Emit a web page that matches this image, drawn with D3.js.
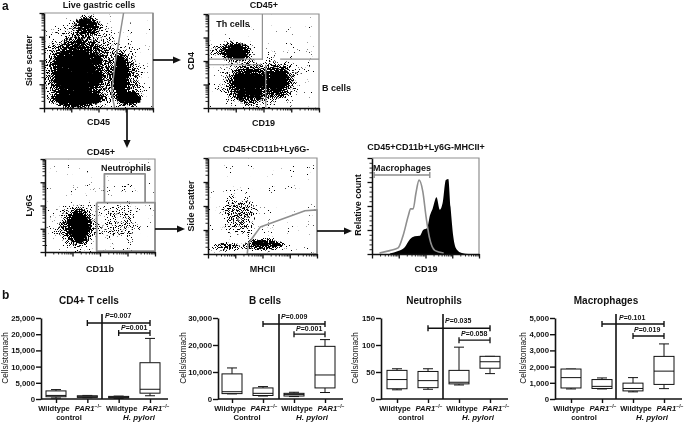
<!DOCTYPE html>
<html><head><meta charset="utf-8">
<script src="https://cdn.jsdelivr.net/npm/d3@7/dist/d3.min.js"></script>
<style>
html,body{margin:0;padding:0;background:#fff}
svg{display:block;filter:blur(.3px)}
text{font-family:"Liberation Sans",Arial,sans-serif;font-weight:bold;fill:#111}
</style></head><body>
<svg id="c" width="685" height="425"></svg>
<script>
// ---------- flow cytometry populations: [x, y, spreadX, spreadY, density] on a 0-100 axis
const liveGastricClouds=[[29,35,27,42,1],[30,10,30,11,1],[40,87,16,14,.78],[33,42,46,60,.6],[71,31,9,32,1],[80,10,12,9,1],[76,28,22,42,.46],[57,50,44,56,.12]];
const cd45Clouds=[[25.5,60,15,11,1],[22,60,27,16,.5],[36,25,20,23,.95],[63,28,15,20,.92],[45,26,48,34,.56],[75,50,30,30,.14]];
const neutrophilClouds=[[31,27,13,23,1],[28,27,27,30,.56],[68,30,26,30,.3],[74,70,8,7,.16],[50,50,44,44,.05]];
const macrophageGateClouds=[[28,42,22,30,.4],[17,8,19,6,.55],[52,10,25,8,.8],[45,30,44,34,.06]];
// ---------- histogram
const cd19BlackX=[16.6,24.4,30.6,35.3,40,44.7,47.8,51.6,54.1,56.6,60.3,63.4,66,69,71.3,73.4,76,79,84,90];
const cd19BlackY=[0.5,3,7,15,18.5,19,25,27,40,47,59,46,53,77,78,49,18,5,1,0];
const cd19GreyX=[7,16.6,24.4,29,34,36,38.5,41,44,47.5,50.5,53.5,59,67];
const cd19GreyY=[1,3.5,6.3,19,40,47,47,63,77,65,39,18,3.5,1];
// ---------- box plots: [min, q1, median, q3, max]
const groupNames=["Wildtype","PAR1","Wildtype","PAR1"];
const cd4Boxes=[[300,700,1100,2500,2900],[400,500,700,1000,1100],[200,300,500,800,900],[1000,1800,3000,11200,18700]];
const bCellBoxes=[[1900,2000,2700,9300,11500],[1100,1300,2100,4100,4600],[900,1100,1700,2100,2500],[2400,4100,8900,19500,22000]];
const neutrophilBoxes=[[17,19,36,53,56],[18,21,34,51,56],[26,28,31,53,96],[47,57,69,79,79]];
const macrophageBoxes=[[620,680,1320,1850,1850],[620,650,780,1200,1300],[440,500,650,980,1320],[640,900,1720,2630,3400]];
const cd4Ticks=[0,5000,10000,15000,20000,25000];
const bCellTicks=[0,10000,20000,30000];
const neutrophilTicks=[0,50,100,150];
const macrophageTicks=[0,1000,2000,3000,4000,5000];
const cd4Pvalues=["0.007","0.001"], bCellPvalues=["0.009","0.001"], neutrophilPvalues=["0.035","0.058"], macrophagePvalues=["0.101","0.019"];
const cd4Brackets=[23450,20370], bCellBrackets=[27800,24000], neutrophilBrackets=[131,109], macrophageBrackets=[4630,3890];

const svg=d3.select("#c"), defs=svg.append("defs");
const GREY="#8f8f8f", INK="#111", FS=9;
const grad=defs.append("radialGradient").attr("id","blob");
[[0,1],[.4,.9],[.75,.35],[1,0]].forEach(([o,a])=>grad.append("stop").attr("offset",o).attr("stop-color","#000").attr("stop-opacity",a));

function label(t,x,y,size,o={}){
  const s=svg.append("text").attr("x",x).attr("y",y).attr("font-size",size).attr("text-anchor",o.anchor||"middle").text(t);
  if(o.rot)s.attr("transform",`rotate(${o.rot} ${x} ${y})`);
  if(o.italic)s.style("font-style","italic");
  if(o.weight)s.style("font-weight",o.weight);
  return s;
}
function stipple(id,seed,x,y,w,h){
  const f=defs.append("filter").attr("id",id).attr("filterUnits","userSpaceOnUse").attr("x",x).attr("y",y).attr("width",w).attr("height",h).attr("color-interpolation-filters","sRGB");
  f.append("feTurbulence").attr("type","fractalNoise").attr("baseFrequency",1.05).attr("numOctaves",1).attr("seed",seed).attr("result","n");
  f.append("feColorMatrix").attr("in","n").attr("type","matrix").attr("values","0 0 0 0 0 0 0 0 0 0 0 0 0 0 0 1.8 0 0 0 -0.4").attr("result","na");
  f.append("feComposite").attr("in","SourceAlpha").attr("in2","na").attr("operator","arithmetic").attr("k1",0).attr("k2",1).attr("k3",1).attr("k4",0).attr("result","sum");
  const ct=f.append("feComponentTransfer").attr("in","sum").attr("result","th");
  ct.append("feFuncA").attr("type","linear").attr("slope",12).attr("intercept",-11);
  f.append("feGaussianBlur").attr("in","th").attr("stdDeviation",.25);
}
function logAxes(g,x0,x1,y0,y1,linY){
  const sx=d3.scaleLog().domain([1,1e4]).range([x0,x1]);
  const major=v=>Math.abs(Math.log10(v)%1)<1e-9;
  const vals=sx.ticks();
  const ax=g.append("g").attr("transform",`translate(0,${y1})`).call(d3.axisBottom(sx).tickValues(vals).tickSizeOuter(0).tickFormat(""));
  ax.selectAll("line").attr("y2",d=>major(d)?4.5:2.5).attr("stroke",INK).attr("stroke-width",d=>major(d)?1.3:.9);
  ax.select("path").attr("stroke",INK).attr("stroke-width",1.5);
  let ay;
  if(linY){
    const sy=d3.scaleLinear().domain([0,100]).range([y1,y0]);
    ay=g.append("g").attr("transform",`translate(${x0},0)`).call(d3.axisLeft(sy).tickValues(d3.range(0,101,5)).tickSizeOuter(0).tickFormat(""));
    ay.selectAll("line").attr("x2",d=>d%25===0?-4.5:-2.5).attr("stroke",INK).attr("stroke-width",d=>d%25===0?1.3:.9);
  }else{
    const sy=d3.scaleLog().domain([1,1e4]).range([y1,y0]);
    ay=g.append("g").attr("transform",`translate(${x0},0)`).call(d3.axisLeft(sy).tickValues(sy.ticks()).tickSizeOuter(0).tickFormat(""));
    ay.selectAll("line").attr("x2",d=>major(d)?-4.5:-2.5).attr("stroke",INK).attr("stroke-width",d=>major(d)?1.3:.9);
  }
  ay.select("path").attr("stroke",INK).attr("stroke-width",1.5);
}
function flow(id,seed,box,clouds,gates,xLab,yLab,title,titleX,titleY,yLabX,xLabY,gw){
  const [x0,x1,y0,y1]=box;
  const sx=d3.scaleLinear().domain([0,100]).range([x0,x1]);
  const sy=d3.scaleLinear().domain([0,100]).range([y1,y0]);
  stipple("st"+id,seed,x0,y0,x1-x0,y1-y0);
  const cp=defs.append("clipPath").attr("id","cp"+id);
  cp.append("rect").attr("x",x0).attr("y",y0).attr("width",x1-x0).attr("height",y1-y0);
  const g=svg.append("g");
  g.append("g").attr("clip-path",`url(#cp${id})`).append("g").attr("filter",`url(#st${id})`)
    .selectAll("ellipse").data(clouds).join("ellipse")
    .attr("cx",d=>sx(d[0])).attr("cy",d=>sy(d[1]))
    .attr("rx",d=>sx(d[2])-sx(0)).attr("ry",d=>sy(0)-sy(d[3]))
    .attr("fill","url(#blob)").attr("opacity",d=>d[4]);
  g.append("path").attr("d",`M${x0},${y0}H${x1}V${y1}`).attr("fill","none").attr("stroke",GREY).attr("stroke-width",1.2);
  const line=d3.line().x(d=>sx(d[0])).y(d=>sy(d[1]));
  gates.forEach(p=>g.append("path").attr("d",line(p)).attr("fill","none").attr("stroke",GREY).attr("stroke-width",gw).attr("stroke-linejoin","round"));
  logAxes(g,x0,x1,y0,y1,false);
  label(title,titleX,titleY,FS);
  label(xLab,(x0+x1)/2,xLabY,FS);
  label(yLab,yLabX,(y0+y1)/2,FS,{rot:-90});
}
function arrow(x1,y1,x2,y2){
  const a=Math.atan2(y2-y1,x2-x1),L=8,W=3.6;
  const bx=x2-L*Math.cos(a),by=y2-L*Math.sin(a),nx=-Math.sin(a)*W,ny=Math.cos(a)*W;
  svg.append("line").attr("x1",x1).attr("y1",y1).attr("x2",bx).attr("y2",by).attr("stroke",INK).attr("stroke-width",1.7);
  svg.append("path").attr("d",`M${x2},${y2}L${bx+nx},${by+ny}L${bx-nx},${by-ny}Z`).attr("fill",INK);
}
label("a",2,10,12,{anchor:"start"});
label("b",2,299,12,{anchor:"start"});

flow("p1",3,[44,153,13,108],liveGastricClouds,
 [[[73,100],[65,45],[62,16],[65,-1],[100,-1],[100,100]]],
 "CD45","Side scatter","Live gastric cells",99,8,32,125,1.5);
flow("p2",7,[208,319,14,108],cd45Clouds,
 [[[0,46],[48,46]],[[49,100],[49,51]],[[65,52],[100,52]],[[52,46],[52,1]],[[0,52],[49,52]]],
 "CD19","CD4","CD45+",264,8,194,126,1.2);
flow("p3",11,[45,155,159,252],neutrophilClouds,
 [[[54,53],[54,84],[91,84],[91,53]],[[47,53],[100,53],[100,1],[47,1],[47,53]]],
 "CD11b","Ly6G","CD45+",101,155,32,272,1.8);
flow("p4",15,[208,317,158,254],macrophageGateClouds,
 [[[36,0],[37,11],[48,28],[89,45],[100,46],[100,0],[36,0]]],
 "MHCII","Side scatter","CD45+CD11b+Ly6G-",266,152,194,272,1.6);
label("Th cells",233,27,FS);
label("B cells",322,91,FS,{anchor:"start"});
label("Neutrophils",126,171,FS);

// histogram
(function(){
  const x0=372,x1=479,y0=158,y1=254;
  const sx=d3.scaleLinear().domain([0,100]).range([x0,x1]);
  const sy=d3.scaleLinear().domain([0,100]).range([y1,y0]);
  const g=svg.append("g");
  const black=d3.area().x((d,i)=>sx(cd19BlackX[i])).y0(y1).y1(d=>sy(d)).curve(d3.curveMonotoneX);
  g.append("path").attr("d",black(cd19BlackY)).attr("fill","#000");
  const grey=d3.line().x((d,i)=>sx(cd19GreyX[i])).y(d=>sy(d)).curve(d3.curveMonotoneX);
  g.append("path").attr("d",grey(cd19GreyY)).attr("fill","none").attr("stroke",GREY).attr("stroke-width",1.6);
  g.append("path").attr("d",`M${x0},${y0}H${x1}V${y1}`).attr("fill","none").attr("stroke",GREY).attr("stroke-width",1.2);
  logAxes(g,x0,x1,y0,y1,true);
  const a=sx(2),b=sx(54),yy=175;
  g.append("path").attr("d",`M${a},${yy-3}V${yy+3}M${a},${yy}H${b}M${b},${yy-3}V${yy+3}`).attr("fill","none").attr("stroke",GREY).attr("stroke-width",1.4);
  label("CD45+CD11b+Ly6G-MHCII+",426,150,FS);
  label("Macrophages",402,171,FS);
  label("CD19",426,272,FS);
  label("Relative count",361,205,FS,{rot:-90});
})();
arrow(153,60,181,60);
arrow(127,108,127,148);
arrow(155,229,185,229);
arrow(317,231,352,231);

// box plots
const labelShift=[-2,1,3,6];
function boxPanel(o){
  const y=d3.scaleLinear().domain([0,o.max]).range([o.base,o.top]);
  const x=d3.scalePoint().domain(d3.range(4)).range([o.cx[0],o.cx[3]]);
  const g=svg.append("g");
  const ay=g.append("g").attr("transform",`translate(${o.ax},0)`).call(d3.axisLeft(y).tickValues(o.ticks).tickSize(5).tickSizeOuter(0).tickPadding(1).tickFormat(d3.format(",")));
  ay.select("path").attr("stroke",INK).attr("stroke-width",1.6);
  ay.selectAll("line").attr("stroke",INK).attr("stroke-width",1.4);
  ay.selectAll("text").attr("font-size",7.8).style("font-family",'"Liberation Sans",Arial,sans-serif').style("font-weight","bold");
  const ax=g.append("g").attr("transform",`translate(0,${o.base})`).call(d3.axisBottom(x).tickSize(4).tickSizeOuter(0).tickFormat(""));
  ax.select("path").attr("stroke",INK).attr("stroke-width",1.6).attr("d",`M${o.ax},0H${o.cx[3]+18}`);
  ax.selectAll("line").attr("stroke",INK).attr("stroke-width",1.4);
  const bw=20;
  const b=g.selectAll("g.b").data(o.boxes).join("g").attr("class","b");
  b.append("path").attr("fill","none").attr("stroke",INK).attr("stroke-width",1)
    .attr("d",(d,i)=>{const c=x(i),w=5;return `M${c},${y(d[3])}V${y(d[4])}M${c-w},${y(d[4])}H${c+w}M${c},${y(d[1])}V${y(d[0])}M${c-w},${y(d[0])}H${c+w}`});
  b.append("rect").attr("x",(d,i)=>x(i)-bw/2).attr("width",bw).attr("y",d=>y(d[3])).attr("height",d=>y(d[1])-y(d[3])).attr("fill","#fff").attr("stroke",INK).attr("stroke-width",1);
  b.append("line").attr("x1",(d,i)=>x(i)-bw/2).attr("x2",(d,i)=>x(i)+bw/2).attr("y1",d=>y(d[2])).attr("y2",d=>y(d[2])).attr("stroke",INK).attr("stroke-width",1);
  g.append("line").attr("x1",o.vx).attr("x2",o.vx).attr("y1",314).attr("y2",o.base).attr("stroke",INK).attr("stroke-width",1.6);
  o.brackets.forEach((v,k)=>{
    const a=x(k===0?1:2),e=x(3),yy=y(v);
    g.append("path").attr("d",`M${a},${yy-3}V${yy+3}M${a},${yy}H${e}M${e},${yy-3}V${yy+3}`).attr("fill","none").attr("stroke",INK).attr("stroke-width",k===0?1.4:1.3);
    const t=label("",o.px[k],o.py[k],7,{anchor:"start"});
    t.append("tspan").style("font-style","italic").text("P");
    t.append("tspan").text("="+o.pv[k]);
  });
  o.boxes.forEach((d,i)=>{
    const lx=x(i)+labelShift[i];
    if(i%2===0){label(groupNames[i],lx,o.base+12,7.6);}
    else{
      const t=label("",lx,o.base+12,7.6);
      t.append("tspan").style("font-style","italic").text(groupNames[i]);
      t.append("tspan").attr("font-size",5).attr("dy",-3).text("−/−");
    }
  });
  label(o.title,o.tx,304,10);
  label("Cells/stomach",o.lx,358,8.2,{rot:-90,weight:"normal"});
  label(o.ctl,o.cxL,420,7.6);
  label("H. pylori",o.hxL,420,8,{italic:true});
}
boxPanel({max:25000,top:318,base:399,ax:41,cx:[56,87,119,150],vx:102,ticks:cd4Ticks,boxes:cd4Boxes,brackets:cd4Brackets,pv:cd4Pvalues,px:[105,121],py:[318,330],title:"CD4+ T cells",tx:89,lx:8,ctl:"control",cxL:69,hxL:139});
boxPanel({max:30000,top:318,base:399,ax:218,cx:[232,263,294,325],vx:279,ticks:bCellTicks,boxes:bCellBoxes,brackets:bCellBrackets,pv:bCellPvalues,px:[281,296],py:[319,331],title:"B cells",tx:265,lx:186,ctl:"Control",cxL:247,hxL:312});
boxPanel({max:150,top:318,base:399,ax:381,cx:[397,428,459,490],vx:443,ticks:neutrophilTicks,boxes:neutrophilBoxes,brackets:neutrophilBrackets,pv:neutrophilPvalues,px:[445,461],py:[323,336],title:"Neutrophils",tx:434,lx:358,ctl:"control",cxL:411,hxL:478});
boxPanel({max:5000,top:318,base:399,ax:555,cx:[571,602,633,664],vx:616,ticks:macrophageTicks,boxes:macrophageBoxes,brackets:macrophageBrackets,pv:macrophagePvalues,px:[619,634],py:[320,332],title:"Macrophages",tx:606,lx:526,ctl:"control",cxL:584,hxL:652});
</script>
</body></html>
